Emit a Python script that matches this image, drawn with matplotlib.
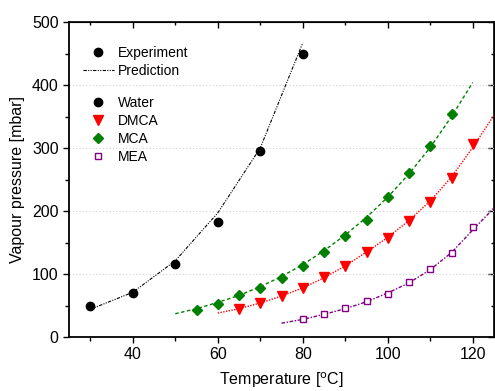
import matplotlib
matplotlib.use("Agg")
import matplotlib.pyplot as plt
from matplotlib.lines import Line2D
from matplotlib.ticker import MultipleLocator

plt.rcParams['font.family'] = ['Liberation Sans', 'DejaVu Sans']

# Measured vapour pressures [mbar]
water_T = [30, 40, 50, 60, 70, 80]
water_p = [50, 70, 116, 183, 296, 449]

dmca_T = [65, 70, 75, 80, 85, 90, 95, 100, 105, 110, 115, 120]
dmca_p = [45, 54, 65, 78, 95, 113, 135, 157, 184, 214, 252, 306]

mca_T = [55, 60, 65, 70, 75, 80, 85, 90, 95, 100, 105, 110, 115]
mca_p = [43, 53, 66, 78, 94, 113, 135, 160, 186, 222, 260, 304, 354]

mea_T = [80, 85, 90, 95, 100, 105, 110, 115, 120]
mea_p = [28, 36, 46, 57, 69, 87, 108, 133, 174]

# Model predictions [mbar]
water_pred_T = [30, 40, 50, 60, 70, 80]
water_pred_p = [44, 71, 121, 197, 300, 467]

mca_pred_T = [50, 55, 60, 65, 70, 75, 80, 85, 90, 95, 100, 105, 110, 115, 120]
mca_pred_p = [37, 45, 55, 66, 80, 96, 115, 137, 162, 190, 222, 259, 301, 350, 404]

dmca_pred_T = [60, 65, 70, 75, 80, 85, 90, 95, 100, 105, 110, 115, 120, 125]
dmca_pred_p = [38, 45, 54, 65, 78, 94, 113, 135, 158, 185, 216, 254, 301, 352]

mea_pred_T = [75, 80, 85, 90, 95, 100, 105, 110, 115, 120, 125]
mea_pred_p = [22, 28, 36, 45, 56, 70, 86, 107, 134, 170, 205]

GREEN = '#008000'
RED = '#ff0000'
PURPLE = '#800080'

fig = plt.figure(figsize=(4.95, 3.91), dpi=100)
ax = fig.add_axes([0.1394, 0.138, 0.8586, 0.8057])

ls_water = (0, (3, 1.2, 1, 1.2, 1, 1.2))
ls_mca = (0, (2.5, 1.8))
ls_dmca = (0, (1, 1))
ls_mea = (0, (2.5, 1.2, 1, 1.2))

ax.plot(water_pred_T, water_pred_p, color='black', lw=0.8, ls=ls_water, zorder=2)
ax.plot(mca_pred_T, mca_pred_p, color=GREEN, lw=1.0, ls=ls_mca, zorder=2)
ax.plot(dmca_pred_T, dmca_pred_p, color=RED, lw=1.0, ls=ls_dmca, zorder=2)
ax.plot(mea_pred_T, mea_pred_p, color=PURPLE, lw=1.0, ls=ls_mea, zorder=2)

ax.plot(water_T, water_p, 'o', color='black', ms=6, zorder=3)
ax.plot(dmca_T, dmca_p, 'v', color=RED, ms=6.5, zorder=3)
ax.plot(mca_T, mca_p, 'D', color=GREEN, ms=5.2, zorder=3)
ax.plot(mea_T, mea_p, 's', mfc='white', mec=PURPLE, mew=1.0, ms=5, zorder=3)

ax.set_xlim(25, 125)
ax.set_ylim(0, 500)
ax.xaxis.set_major_locator(MultipleLocator(20))
ax.xaxis.set_minor_locator(MultipleLocator(10))
ax.yaxis.set_major_locator(MultipleLocator(100))
ax.yaxis.set_minor_locator(MultipleLocator(50))

ax.yaxis.grid(True, which='major', linestyle=(0, (1, 2)), color='#d0d0d0', lw=0.8)
ax.set_axisbelow(True)

ax.tick_params(axis='both', which='major', direction='out', length=4.5, width=1,
               labelsize=11.5, pad=3, top=False, right=False)
ax.tick_params(axis='both', which='minor', direction='out', length=3, width=1,
               top=False, right=False)

# inward ticks on the top and right edges
sec_x = ax.secondary_xaxis('top')
sec_x.xaxis.set_major_locator(MultipleLocator(20))
sec_x.xaxis.set_minor_locator(MultipleLocator(10))
sec_x.tick_params(which='major', direction='in', length=4.5, width=1, labeltop=False)
sec_x.tick_params(which='minor', direction='in', length=2.5, width=1)
sec_y = ax.secondary_yaxis('right')
sec_y.yaxis.set_major_locator(MultipleLocator(100))
sec_y.yaxis.set_minor_locator(MultipleLocator(50))
sec_y.tick_params(which='major', direction='in', length=4.5, width=1, labelright=False)
sec_y.tick_params(which='minor', direction='in', length=2.5, width=1)
sec_x.spines['top'].set_linewidth(1.2)
sec_y.spines['right'].set_linewidth(1.2)

for s in ['left', 'bottom']:
    ax.spines[s].set_linewidth(1.3)

ax.set_xlabel('Temperature [$^{\\rm o}$C]', fontsize=11.5, labelpad=6)
ax.set_ylabel('Vapour pressure [mbar]', fontsize=11.5, labelpad=5)

# Legend: marker / line meaning
kind_handles = [
    Line2D([], [], marker='o', ls='none', color='black', ms=6),
    Line2D([], [], color='black', lw=0.8, ls=ls_water),
]
leg1 = ax.legend(kind_handles, ['Experiment', 'Prediction'], loc='upper left',
                 bbox_to_anchor=(0.033, 0.924), frameon=False, fontsize=10,
                 handlelength=2.2, handletextpad=0.3, labelspacing=0.28,
                 borderpad=0, borderaxespad=0)
ax.add_artist(leg1)

# Legend: substances
sub_handles = [
    Line2D([], [], marker='o', ls='none', color='black', ms=6),
    Line2D([], [], marker='v', ls='none', color=RED, ms=6.5),
    Line2D([], [], marker='D', ls='none', color=GREEN, ms=5.2),
    Line2D([], [], marker='s', ls='none', mfc='white', mec=PURPLE, mew=1.0, ms=5),
]
ax.legend(sub_handles, ['Water', 'DMCA', 'MCA', 'MEA'], loc='upper left',
          bbox_to_anchor=(0.033, 0.765), frameon=False, fontsize=10,
          handlelength=2.2, handletextpad=0.3, labelspacing=0.28,
          borderpad=0, borderaxespad=0)

fig.savefig('out.png', dpi=100)
